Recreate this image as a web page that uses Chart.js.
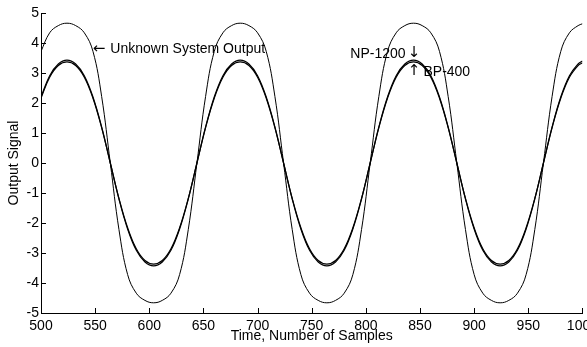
<!DOCTYPE html>
<html>
<head>
<meta charset="utf-8">
<script src="https://cdn.jsdelivr.net/npm/chart.js@4.4.1/dist/chart.umd.min.js"></script>
<style>
  html, body { margin: 0; padding: 0; background: #fff; overflow: hidden; }
  #wrap { width: 587px; height: 347px; overflow: hidden; }
</style>
</head>
<body>
<div id="wrap"><canvas id="outputChart" width="603" height="347"></canvas></div>
<script>
// Sample index (time axis)
const samples = [
  500, 508, 516, 524, 532, 540, 548, 556, 564, 572, 580, 588, 596, 604, 612, 620, 628, 636, 644, 652,
  660, 668, 676, 684, 692, 700, 708, 716, 724, 732, 740, 748, 756, 764, 772, 780, 788, 796, 804, 812,
  820, 828, 836, 844, 852, 860, 868, 876, 884, 892, 900, 908, 916, 924, 932, 940, 948, 956, 964, 972,
  980, 988, 996, 1000
];

// Unknown system output (large swing)
const unknownOutput = [
  3.72, 4.34, 4.58, 4.66, 4.58, 4.34, 3.72, 2.22, 0.00, -2.22, -3.72, -4.34, -4.58, -4.66, -4.58, -4.34, -3.72, -2.22, 0.00, 2.22,
  3.72, 4.34, 4.58, 4.66, 4.58, 4.34, 3.72, 2.22, 0.00, -2.22, -3.72, -4.34, -4.58, -4.66, -4.58, -4.34, -3.72, -2.22, 0.00, 2.22,
  3.72, 4.34, 4.58, 4.66, 4.58, 4.34, 3.72, 2.22, 0.00, -2.22, -3.72, -4.34, -4.58, -4.66, -4.58, -4.34, -3.72, -2.22, 0.00, 2.22,
  3.72, 4.34, 4.58, 4.64
];

// NP-1200 model output
const np1200 = [
  2.20, 2.91, 3.30, 3.43, 3.30, 2.91, 2.20, 1.20, 0.00, -1.20, -2.20, -2.91, -3.30, -3.43, -3.30, -2.91, -2.20, -1.20, 0.00, 1.20,
  2.20, 2.91, 3.30, 3.43, 3.30, 2.91, 2.20, 1.20, 0.00, -1.20, -2.20, -2.91, -3.30, -3.43, -3.30, -2.91, -2.20, -1.20, 0.00, 1.20,
  2.20, 2.91, 3.30, 3.43, 3.30, 2.91, 2.20, 1.20, 0.00, -1.20, -2.20, -2.91, -3.30, -3.43, -3.30, -2.91, -2.20, -1.20, 0.00, 1.20,
  2.20, 2.91, 3.30, 3.40
];

// BP-400 model output
const bp400 = [
  2.16, 2.86, 3.25, 3.37, 3.25, 2.86, 2.16, 1.18, 0.00, -1.18, -2.16, -2.86, -3.25, -3.37, -3.25, -2.86, -2.16, -1.18, 0.00, 1.18,
  2.16, 2.86, 3.25, 3.37, 3.25, 2.86, 2.16, 1.18, 0.00, -1.18, -2.16, -2.86, -3.25, -3.37, -3.25, -2.86, -2.16, -1.18, 0.00, 1.18,
  2.16, 2.86, 3.25, 3.37, 3.25, 2.86, 2.16, 1.18, 0.00, -1.18, -2.16, -2.86, -3.25, -3.37, -3.25, -2.86, -2.16, -1.18, 0.00, 1.18,
  2.16, 2.86, 3.25, 3.34
];

// Text labels placed in data coordinates: [text, x, y, align, isArrow]
const annotations = [
  ["\u2190", 553.6, 3.80, "center", true],
  ["Unknown System Output", 564.0, 3.80, "left", false],
  ["NP-1200", 836.7, 3.64, "right", false],
  ["\u2193", 844.4, 3.66, "center", true],
  ["\u2191", 844.4, 3.06, "center", true],
  ["BP-400", 853.2, 3.02, "left", false],
];

const FONT = '"Liberation Sans", Arial, Helvetica, sans-serif';
Chart.defaults.font.family = FONT;
Chart.defaults.font.size = 14;
Chart.defaults.color = "#000";

function toPoints(ys) {
  return samples.map((x, i) => ({ x, y: ys[i] }));
}

function lineSet(label, ys, width) {
  return {
    label,
    data: toPoints(ys),
    borderColor: "#000",
    borderWidth: width,
    pointRadius: 0,
    fill: false,
    showLine: true,
    tension: 0.4,
  };
}

// MATLAB-style ticks pointing into the plot + text labels
const matlabLook = {
  id: "matlabLook",
  afterDraw(chart) {
    const { ctx, chartArea, scales } = chart;
    ctx.save();
    ctx.strokeStyle = "#000";
    ctx.lineWidth = 1;
    ctx.beginPath();
    scales.x.ticks.forEach((t) => {
      const px = Math.round(scales.x.getPixelForValue(t.value)) + 0.5;
      ctx.moveTo(px, chartArea.bottom);
      ctx.lineTo(px, chartArea.bottom - 5);
    });
    scales.y.ticks.forEach((t) => {
      const py = Math.round(scales.y.getPixelForValue(t.value)) + 0.5;
      ctx.moveTo(chartArea.left, py);
      ctx.lineTo(chartArea.left + 5, py);
    });
    ctx.stroke();

    ctx.fillStyle = "#000";
    ctx.textBaseline = "middle";
    annotations.forEach(([text, x, y, align, isArrow]) => {
      ctx.font = isArrow ? '15px "DejaVu Sans", sans-serif' : "14px " + FONT;
      ctx.textAlign = align;
      ctx.fillText(text, scales.x.getPixelForValue(x), scales.y.getPixelForValue(y));
    });
    ctx.restore();
  },
};

new Chart(document.getElementById("outputChart"), {
  type: "scatter",
  data: {
    datasets: [
      lineSet("Unknown System Output", unknownOutput, 1),
      lineSet("NP-1200", np1200, 1.2),
      lineSet("BP-400", bp400, 1.2),
    ],
  },
  options: {
    responsive: false,
    animation: false,
    devicePixelRatio: 1,
    layout: { padding: { top: 13, right: 0, left: 0, bottom: 0 } },
    plugins: {
      legend: { display: false },
      tooltip: { enabled: false },
    },
    scales: {
      x: {
        type: "linear",
        min: 500,
        max: 1000,
        grid: { display: false, drawTicks: false },
        border: { display: true, color: "#000", width: 1 },
        ticks: { stepSize: 50, padding: 5, maxRotation: 0, autoSkip: false, callback: (v) => String(v) },
        title: { display: true, text: "Time, Number of Samples", padding: { top: 0, bottom: 2 } },
        afterFit: (scale) => { scale.height = 34; },
      },
      y: {
        min: -5,
        max: 5,
        grid: { display: false, drawTicks: false },
        border: { display: true, color: "#000", width: 1 },
        ticks: { stepSize: 1, padding: 2 },
        title: { display: true, text: "Output Signal", padding: { top: 6, bottom: 0 } },
        afterFit: (scale) => { scale.width = 41; },
      },
    },
  },
  plugins: [matlabLook],
});
</script>
</body>
</html>
